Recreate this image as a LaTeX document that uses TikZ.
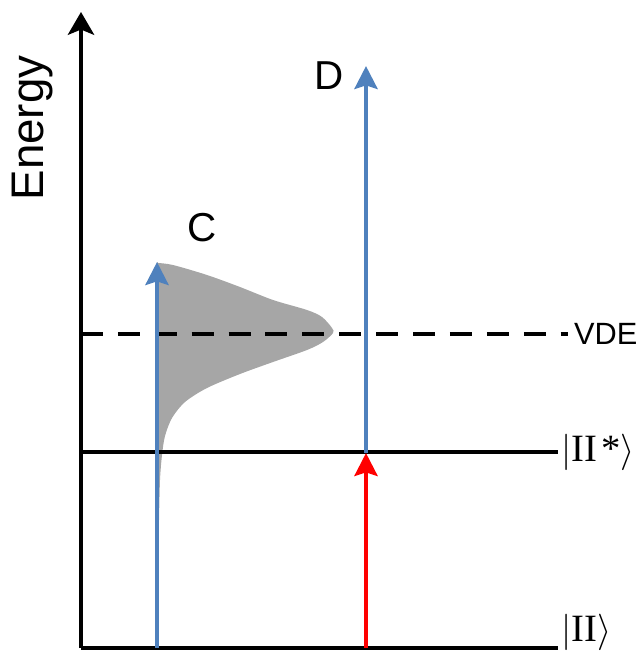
\documentclass[tikz,border=0pt]{standalone}
\usepackage{fontspec}
\setmainfont{Liberation Sans}
\newfontfamily\ketfont{Liberation Serif}
\usetikzlibrary{arrows.meta}
\definecolor{lineblue}{RGB}{79,129,189}
\definecolor{bandgray}{RGB}{166,166,166}
\begin{document}
\begin{tikzpicture}[x=0.02cm,y=-0.02cm,
    level/.style={line width=2pt},
    trans/.style={line width=2.8pt,-{Stealth[length=13pt,width=13pt,inset=2pt]}},
    lbl/.style={font=\fontsize{23}{25}\selectfont},
    ket/.style={anchor=west,inner sep=2pt,font=\fontsize{22}{24}\selectfont}]
    \useasboundingbox (0,0) rectangle (639,655);
    % band of the photodetachment signal
    \fill[bandgray] (157,520) -- (157,262) -- plot[smooth] coordinates {(158,263) (173,265) (207,275) (240,287) (273,300) (307,310) (322,317) (332,328) (333,333) (323,342) (307,350) (273,362) (240,374) (207,388) (185,402) (172,418) (165,436) (162,455) (160,480) (159,520)} -- cycle;
    % axes
    \coordinate (o) at (81,648);
    \coordinate (top) at (81,12);
    \draw[level,-{Stealth[length=13pt,width=15pt,inset=3pt]}] (o) -- (top);
    \node[rotate=90,font=\fontsize{26}{28}\selectfont] (en) at (33,128) {Energy};
    \node[ket] (g) at (558,632) {$|\hbox{\ketfont II}\rangle$};
    \node[ket] (ex) at (558,452) {$|\hbox{\ketfont II\kern2pt*}\rangle$};
    \node[anchor=west,font=\fontsize{17.5}{19}\selectfont] (vde) at (568,334) {VDE};
    \draw[level] (o) -- (o -| g.west);
    \draw[level] (o |- ex) -- (ex.west);
    \draw[level,dash pattern=on 12.5pt off 8.5pt] (o |- vde) -- (vde.west);
    % transitions
    \coordinate (c0) at (157,648);
    \coordinate (c1) at (157,262);
    \coordinate (d0) at (366,648);
    \coordinate (d1) at (366,453);
    \coordinate (d2) at (366,66);
    \draw[trans,lineblue] (c0) -- (c1);
    \draw[trans,red] (d0) -- (d1);
    \draw[trans,lineblue] (d1) -- (d2);
    \node[lbl] (lc) at (202,228) {C};
    \node[lbl] (ld) at (329,76) {D};
\end{tikzpicture}
\end{document}
